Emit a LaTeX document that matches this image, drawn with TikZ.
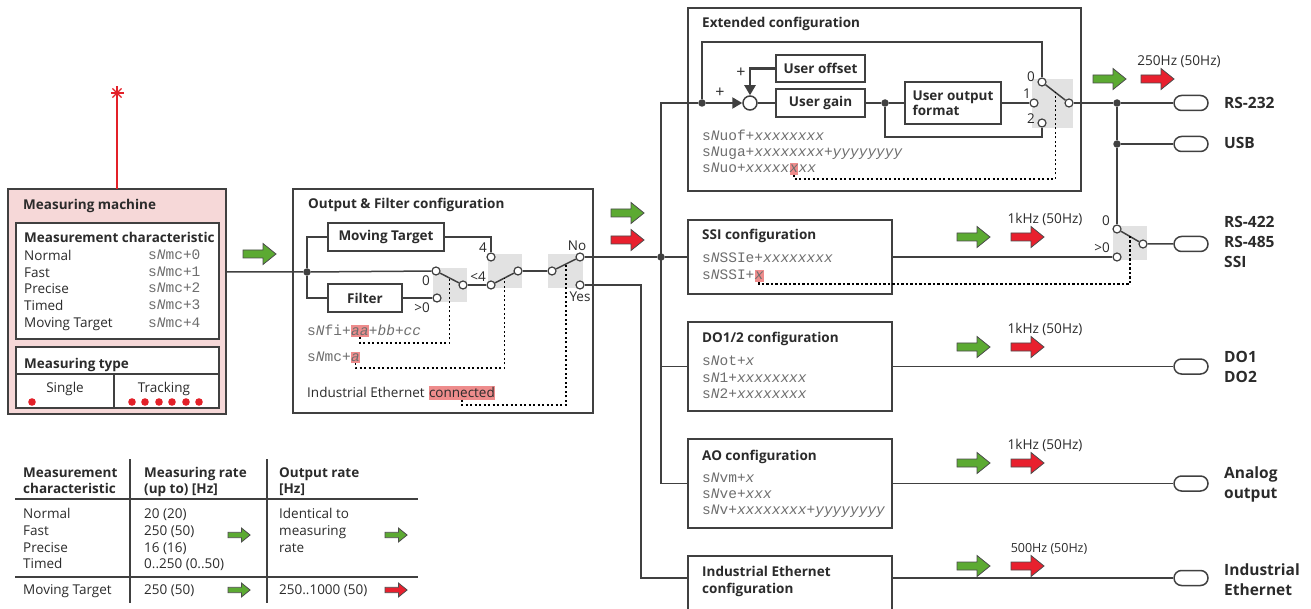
\documentclass[tikz,border=0pt]{standalone}
\usepackage{fontspec}
\setmainfont{Open Sans}
\newfontfamily\monofam{Liberation Mono}
\usetikzlibrary{calc,shapes.misc,arrows.meta}
\definecolor{lc}{HTML}{404040}
\definecolor{txtc}{HTML}{2B2B2B}
\definecolor{pinkbg}{HTML}{F6D8D8}
\definecolor{swg}{HTML}{E2E2E2}
\definecolor{codeg}{HTML}{6E6E6E}
\definecolor{hlc}{HTML}{EE8C8C}
\definecolor{garrow}{HTML}{5CAA32}
\definecolor{rarrow}{HTML}{E8202E}
\definecolor{mred}{HTML}{E32028}
\newcommand\fntreg{\fontsize{13.5}{15}\selectfont}
\newcommand\fntbold{\fontsize{13.5}{15}\selectfont\bfseries}
\newcommand\fntcode{\monofam\fontsize{14.5}{16}\selectfont}
\newcommand\fntlab{\fontsize{15.5}{18}\selectfont\bfseries}
\newcommand\fntfreq{\fontsize{13.6}{15}\selectfont}
\tikzset{
 box/.style={draw=lc, fill=white, line width=1.5pt, inner sep=0pt, outer sep=0pt, anchor=north west, text=txtc, font=\fntbold},
 ttl/.style={font=\fntbold, anchor=base west, inner sep=0pt, text=txtc},
 txt/.style={font=\fntreg, anchor=base west, inner sep=0pt, text=txtc},
 ctxt/.style={font=\fntreg, anchor=base, inner sep=0pt, text=txtc},
 cd/.style={font=\fntcode, anchor=base west, inner sep=0pt, text=codeg},
 hl/.style={fill=hlc, text height=9.5pt, text depth=2pt},
 hlr/.style={fill=hlc, text height=11.5pt, text depth=2.5pt},
 contact/.style={circle, draw=lc, fill=white, line width=1.2pt, inner sep=0pt, minimum size=8pt},
 jn/.style={circle, fill=lc, inner sep=0pt, minimum size=7.5pt},
 plug/.style={rounded rectangle, draw=lc, fill=white, line width=1.5pt, minimum width=34pt, minimum height=15pt, inner sep=0pt},
 wire/.style={draw=lc, line width=1.5pt},
 dotl/.style={draw=black, line width=1.8pt, dash pattern=on 2.2pt off 2.3pt},
 lab/.style={font=\fntlab, anchor=base west, inner sep=0pt, text=txtc},
 freq/.style={font=\fntfreq, anchor=base, inner sep=0pt, text=txtc},
 slab/.style={font=\fntreg, inner sep=0pt, text=txtc},
 thickarr/.style={draw=lc, line width=2.2pt, -{Triangle[length=10pt,width=11pt]}},
 pics/fatarrow/.style={code={\filldraw[fill=#1, draw=black!70, line width=0.8pt] (0,-4)--(20,-4)--(20,-10.5)--(33,0)--(20,10.5)--(20,4)--(0,4)--cycle;}},
}
\begin{document}
\begin{tikzpicture}[x=1pt,y=-1pt]
\useasboundingbox (0,0) rectangle (1311,609);

% ---------- Measuring machine ----------
\node[box, fill=pinkbg, minimum width=218pt, minimum height=225pt] (mm) at (8,189) {};
\node[box, minimum width=203pt, minimum height=116pt] (mc) at (16,223) {};
\node[box, minimum width=203pt, minimum height=61pt] (mty) at (16,347) {};
\draw[wire] (16,374) -- (219,374);
\draw[wire] (114,374) -- (114,408);
\node[ttl] at (23,210) {Measuring machine};
\node[ttl] at (24,243) {Measurement characteristic};
\foreach \t/\c/\y in {Normal/0/261, Fast/1/278, Precise/2/294, Timed/3/311, Moving Target/4/328} {
  \node[txt] at (24,\y) {\t};
  \node[cd] at (148,\y-1) {s\textit{N}mc+\c};
}
\node[ttl] at (24,368) {Measuring type};
\node[ctxt] at (65,392) {Single};
\node[ctxt] at (164,392) {Tracking};
\fill[mred] (32,402) circle[radius=3.8pt];
\foreach \x in {132,145,159,172,186,199} \fill[mred] (\x,402) circle[radius=3.8pt];
\coordinate (star) at (117,93);
\draw[mred, line width=1.2pt] (star) -- (star |- mm.north);
\foreach \a in {0,45,90,135} \draw[mred, line width=1.1pt] ($(star)+(\a:6.5)$) -- ($(star)+(\a+180:6.5)$);
\pic at (243,254) {fatarrow=garrow};

% ---------- Output & Filter ----------
\node[box, minimum width=300pt, minimum height=224pt] (of) at (293,189) {};
\node[ttl] at (308,209) {Output \& Filter configuration};
\node[box, minimum width=116pt, minimum height=28pt] (movt) at (328,223) {Moving Target};
\node[box, minimum width=74pt, minimum height=28pt] (filt) at (328,284) {Filter};
\fill[swg] (433,268) rectangle (467,302);
\fill[swg] (488,254) rectangle (522,288);
\fill[swg] (548,254) rectangle (583,288);
\node[jn] (j1) at (307,272) {};
\node[contact] (s1a) at (436,271) {};
\node[contact] (s1b) at (437,298) {};
\node[contact] (s1c) at (463,285) {};
\node[contact] (s2a) at (491,257) {};
\node[contact] (s2b) at (491,285) {};
\node[contact] (s2c) at (518,271) {};
\node[contact] (s3c) at (552,271) {};
\node[contact] (s3a) at (580,257) {};
\node[contact] (s3b) at (580,285) {};
\draw[wire] (mm.east |- j1) -- (j1) -- (s1a);
\draw[wire] (movt.west) -| (j1) |- (filt.west);
\draw[wire] (filt.east) -- (s1b);
\draw[wire] (movt.east) -| (s2a);
\draw[wire] (s1a) -- (s1c);
\draw[wire] (s1c) -- (s2b);
\draw[wire] (s2b) -- (s2c);
\draw[wire] (s2c) -- (s3c);
\draw[wire] (s3c) -- (s3a);
\node[slab] at (426,281) {0};
\node[slab] at (422,308) {>0};
\node[slab] at (483,248) {4};
\node[slab] at (478,277) {<4};
\node[slab] at (577,246) {No};
\node[slab] at (580,297) {Yes};
\node[cd] (fi) at (307,335) {s\textit{N}fi+};
\node[cd, hl] (aa) at (fi.base east) {\textit{aa}};
\node[cd] at (aa.base east) {+\textit{bb}+\textit{cc}};
\node[cd] (mcc) at (307,361) {s\textit{N}mc+};
\node[cd, hl] (a1) at (mcc.base east) {\textit{a}};
\node[txt] (iet) at (307,397) {Industrial Ethernet};
\node[txt, hlr] (conn) at ([xshift=4pt]iet.base east) {connected};
\coordinate (m1) at ($(s1a)!0.5!(s1c)$);
\coordinate (d1) at (449.5,343);
\draw[dotl] (aa.south) |- (d1) -- (m1);
\coordinate (m2) at ($(s2b)!0.5!(s2c)$);
\coordinate (d2) at (504.5,368);
\draw[dotl] (a1.south) |- (d2) -- (m2);
\coordinate (m3) at ($(s3c)!0.5!(s3a)$);
\coordinate (d3) at (566,405);
\draw[dotl] (conn.south) |- (d3) -- (m3);

\pic at (611,213) {fatarrow=garrow};
\pic at (611,240) {fatarrow=rarrow};

% ---------- Right column boxes ----------
\node[box, minimum width=393pt, minimum height=183pt] (ext) at (688,8) {};
\node[box, minimum width=204pt, minimum height=74pt] (ssi) at (688,220) {};
\node[box, minimum width=204pt, minimum height=89pt] (do) at (688,322) {};
\node[box, minimum width=204pt, minimum height=89pt] (ao) at (688,439) {};
\node[box, minimum width=204pt, minimum height=60pt] (ie) at (688,556) {};

% Extended configuration
\node[ttl] at (702,28) {Extended configuration};
\node[box, minimum width=89pt, minimum height=27pt] (uoff) at (776,55) {User offset};
\node[box, minimum width=89pt, minimum height=28pt] (ugain) at (776,89) {User gain};
\node[box, minimum width=96pt, minimum height=42pt, align=left] (uof) at (905,82) {User output\\format};
\node[circle, draw=lc, fill=white, line width=1.5pt, minimum size=14pt, inner sep=0pt] (sum) at (750,103) {};
\node[jn] (j3) at (702,103) {};
\node[jn] (j4) at (885,103) {};
\fill[swg] (1032,79) rectangle (1073,128);
\node[contact] (e0) at (1042,82) {};
\node[contact] (e1) at (1034,103) {};
\node[contact] (e2) at (1042,123) {};
\node[contact] (ec) at (1069,103) {};
\coordinate (fb) at (702,42);
\coordinate (lb) at (885,137);
\draw[wire] (j3) -- (fb) -| (e0);
\draw[thickarr] (j3) -- (sum);
\draw[thickarr] (uoff.west) -| (sum);
\draw[wire] (sum) -- (ugain);
\draw[wire] (ugain) -- (j4) -- (uof);
\draw[wire] (uof) -- (e1);
\draw[wire] (j4) -- (lb) -| (e2);
\draw[wire] (e0) -- (ec);
\node[font=\fontsize{16}{17}\selectfont, text=txtc, inner sep=0pt] at (720,93) {+};
\node[font=\fontsize{16}{17}\selectfont, text=txtc, inner sep=0pt] at (741,73) {+};
\node[slab] at (1031,77) {0};
\node[slab] at (1027,94) {1};
\node[slab] at (1031,119) {2};
\node[cd] at (702,141) {s\textit{N}uof+\textit{xxxxxxxx}};
\node[cd] at (702,157) {s\textit{N}uga+\textit{xxxxxxxx}+\textit{yyyyyyyy}};
\node[cd] (ua) at (702,173) {s\textit{N}uo+\textit{xxxxx}};
\node[cd, hl] (ux) at (ua.base east) {\textit{x}};
\node[cd] at (ux.base east) {\textit{xx}};
\coordinate (m4) at ($(e0)!0.5!(ec)$);
\coordinate (d4) at (1055.5,179);
\draw[dotl] (ux.south) |- (d4) -- (m4);

% bus
\node[jn] (j2) at (661,257) {};
\coordinate (bt) at (661,103);
\coordinate (bb) at (661,483.5);
\coordinate (yb) at (641,578);
\draw[wire] (s3a) -- (j2);
\draw[wire] (j3) -- (bt) -- (bb) -- (ao.west |- bb);
\draw[wire] (j2) -- (ssi.west |- j2);
\draw[wire] (bt |- do.west) -- (do.west);
\draw[wire] (s3b) -| (yb) -- (ie.west |- yb);

% SSI
\node[ttl] at (702,240) {SSI configuration};
\node[cd] at (702,263) {s\textit{N}SSIe+\textit{xxxxxxxx}};
\node[cd] (ssa) at (702,280) {s\textit{N}SSI+};
\node[cd, hl] (ssx) at (ssa.base east) {\textit{x}};

% DO
\node[ttl] at (702,343) {DO1/2 configuration};
\node[cd] at (702,366) {s\textit{N}ot+\textit{x}};
\node[cd] at (702,382) {s\textit{N}1+\textit{xxxxxxxx}};
\node[cd] at (702,398) {s\textit{N}2+\textit{xxxxxxxx}};

% AO
\node[ttl] at (702,460) {AO configuration};
\node[cd] at (702,482) {s\textit{N}vm+\textit{x}};
\node[cd] at (702,498) {s\textit{N}ve+\textit{xxx}};
\node[cd] at (702,514) {s\textit{N}v+\textit{xxxxxxxx}+\textit{yyyyyyyy}};

% IE
\node[ttl] at (702,576) {Industrial Ethernet};
\node[ttl] at (702,593) {configuration};

% ---------- outputs ----------
\node[jn] (j5) at (1117,103) {};
\node[jn] (j6) at (1117,144) {};
\node[plug] (p232) at (1191,103) {};
\node[plug] (pusb) at (1191,144) {};
\fill[swg] (1113,226) rectangle (1147,260);
\node[contact] (r0) at (1117,229) {};
\node[contact] (r1) at (1117,257) {};
\node[contact] (rc) at (1143,244) {};
\node[plug] (p422) at (1191,244) {};
\node[plug] (pdo) at (1191,366.5) {};
\node[plug] (pao) at (1191,483.5) {};
\node[plug] (pie) at (1191,578) {};
\draw[wire] (ec) -- (j5) -- (p232);
\draw[wire] (j5) -- (j6) -- (r0);
\draw[wire] (j6) -- (pusb);
\draw[wire] (r0) -- (rc) -- (p422);
\draw[wire] (ssi.east) -- (r1);
\draw[wire] (do.east) -- (pdo);
\draw[wire] (ao.east) -- (pao);
\draw[wire] (ie.east |- yb) -- (pie);
\node[slab] at (1106,221) {0};
\node[slab] at (1102,248) {>0};
\coordinate (m5) at ($(r0)!0.5!(rc)$);
\coordinate (d5) at (1130,284);
\draw[dotl] (ssx.south) |- (d5) -- (m5);

\node[lab] at (1224,109) {RS-232};
\node[lab] at (1224,149) {USB};
\node[lab] at (1224,228) {RS-422};
\node[lab] at (1224,248) {RS-485};
\node[lab] at (1224,268) {SSI};
\node[lab] at (1224,362) {DO1};
\node[lab] at (1224,382) {DO2};
\node[lab] at (1224,478) {Analog};
\node[lab] at (1224,498) {output};
\node[lab] at (1224,575) {Industrial};
\node[lab] at (1224,595) {Ethernet};

% rates
\pic at (1093,79) {fatarrow=garrow};
\pic at (1141,79) {fatarrow=rarrow};
\node[freq] at (1179,65.5) {250Hz (50Hz)};
\pic at (957,237) {fatarrow=garrow};
\pic at (1011,237) {fatarrow=rarrow};
\node[freq] at (1045,223.5) {1kHz (50Hz)};
\pic at (957,347) {fatarrow=garrow};
\pic at (1011,347) {fatarrow=rarrow};
\node[freq] at (1045,333.5) {1kHz (50Hz)};
\pic at (957,463) {fatarrow=garrow};
\pic at (1011,463) {fatarrow=rarrow};
\node[freq] at (1045,449.5) {1kHz (50Hz)};
\pic at (957,566) {fatarrow=garrow};
\pic at (1011,566) {fatarrow=rarrow};
\node[freq, font=\fontsize{12.5}{14}\selectfont] at (1049,552) {500Hz (50Hz)};

% ---------- table ----------
\draw[draw=lc, line width=1.2pt] (130,459) -- (130,603);
\draw[draw=lc, line width=1.2pt] (267,459) -- (267,603);
\draw[draw=lc, line width=1.2pt] (15,499) -- (418,499);
\draw[draw=lc, line width=1.2pt] (15,577) -- (418,577);
\node[ttl] at (23,477) {Measurement};
\node[ttl] at (23,493) {characteristic};
\node[ttl] at (144,477) {Measuring rate};
\node[ttl] at (144,493) {(up to) [Hz]};
\node[ttl] at (279,477) {Output rate};
\node[ttl] at (279,493) {[Hz]};
\node[txt] at (23,518) {Normal};
\node[txt] at (23,535) {Fast};
\node[txt] at (23,552) {Precise};
\node[txt] at (23,568) {Timed};
\node[txt] at (144,518) {20 (20)};
\node[txt] at (144,535) {250 (50)};
\node[txt] at (144,552) {16 (16)};
\node[txt] at (144,568) {0..250 (0..50)};
\node[txt] at (279,518) {Identical to};
\node[txt] at (279,535) {measuring};
\node[txt] at (279,552) {rate};
\node[txt] at (23,594) {Moving Target};
\node[txt] at (144,594) {250 (50)};
\node[txt] at (279,594) {250..1000 (50)};
\pic[scale=0.67] at (228,535) {fatarrow=garrow};
\pic[scale=0.67] at (385,535) {fatarrow=garrow};
\pic[scale=0.67] at (228,590) {fatarrow=garrow};
\pic[scale=0.67] at (385,590) {fatarrow=rarrow};
\end{tikzpicture}
\end{document}
